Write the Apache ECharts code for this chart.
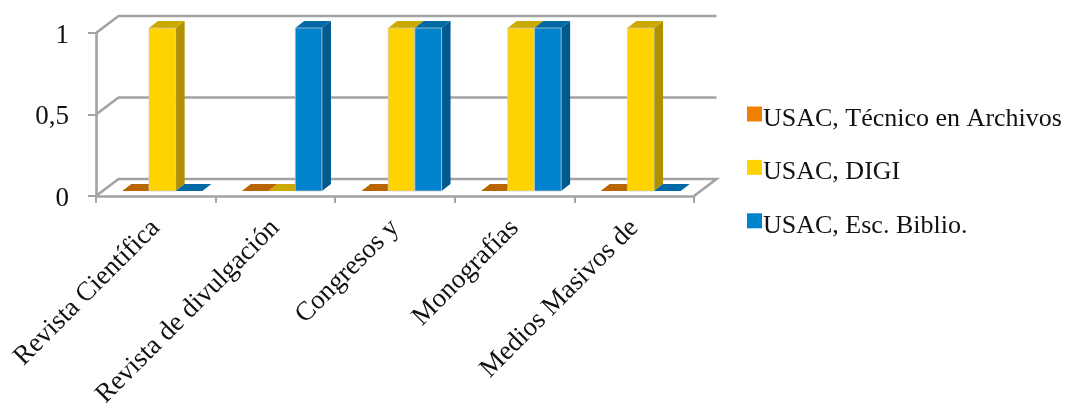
<!DOCTYPE html>
<html><head><meta charset="utf-8">
<style>html,body{margin:0;padding:0;background:#fff}#c{width:1067px;height:408px}</style>
<script src="https://cdn.jsdelivr.net/npm/echarts@6/dist/echarts.min.js"></script>
</head><body><div id="c"></div>
<script>
const categories = ['Revista Científica','Revista de divulgación','Congresos y','Monografías','Medios Masivos de'];
const seriesNames = ['USAC, Técnico en Archivos','USAC, DIGI','USAC, Esc. Biblio.'];
const tecnico = [0,0,0,0,0];
const digi = [1,0,1,1,1];
const biblio = [0,1,1,1,0];
const yTicks = [0,0.5,1];
const FONT = '"Liberation Serif"';
const GRAY = '#a3a3a3';
const LW = 2.6;
const front = ['#f08000','#ffd300','#0082cc'];
const side = ['#a85c00','#b08f00','#005a8e'];
const topc = ['#b86500','#cca900','#0069a6'];
const DX=22.5, DY=-17, OX=6.5, OY=-5, BX=9, BY=-7;
const chart = echarts.init(document.getElementById('c'),null,{renderer:'canvas'});
function barRender(s){
  return function(params,api){
    const bw = api.size([1,0])[0]*0.2232;
    const base = api.coord([api.value(0),0]);
    const t = api.coord([api.value(0),api.value(1)]);
    const x0 = base[0]+OX+(s-1.5)*bw, x1=x0+bw;
    const yb = base[1]+OY, yt=t[1]+OY;
    const children=[];
    const edge={stroke:'rgba(205,205,205,0.7)',lineWidth:1};
    if(yb-yt>0.5){
      children.push({type:'polygon',shape:{points:[[x1,yb],[x1+BX,yb+BY],[x1+BX,yt+BY],[x1,yt]]},style:{fill:side[s]}});
    }
    children.push({type:'polygon',shape:{points:[[x0,yt],[x1,yt],[x1+BX,yt+BY],[x0+BX,yt+BY]]},style:{fill:topc[s]}});
    if(yb-yt>0.5){
      children.push({type:'rect',shape:{x:x0,y:yt,width:bw,height:yb-yt},style:Object.assign({fill:front[s]},edge)});
    }
    return {type:'group',children};
  };
}
function frameRender(params,api){
  const c=params.coordSys;
  const p=api.coord([0,api.value(0)]);
  const y=p[1], xl=c.x, xr=c.x+c.width;
  const pts=[[xl,y],[xl+DX,y+DY],[xr+DX,y+DY]];
  if(api.value(0)===0) pts.push([xr,y]);
  return {type:'polyline',shape:{points:pts},style:{stroke:GRAY,lineWidth:LW,fill:null}};
}
const mk=(arr)=>arr.map((v,i)=>[i,v]);
chart.setOption({
  animation:false,
  backgroundColor:'#fff',
  grid:{left:96,top:33,width:598,height:163,outerBoundsMode:'none',containLabel:false},
  legend:{
    data:seriesNames,orient:'vertical',left:742,top:101,
    itemWidth:15,itemHeight:15,itemGap:27.4,icon:'rect',
    selectedMode:false,
    formatter:n=>'{a|'+n+'}',
    textStyle:{padding:[0,0,0,-4],rich:{a:{fontFamily:FONT,fontSize:26,color:'#111',padding:[10,0,0,0]}}}
  },
  xAxis:{type:'category',data:categories,
    axisLine:{lineStyle:{color:GRAY,width:LW}},
    axisTick:{show:true,alignWithLabel:false,length:7,lineStyle:{color:GRAY,width:2}},
    axisLabel:{rotate:45,interval:0,margin:28,fontFamily:FONT,fontSize:27,color:'#111'}},
  yAxis:{type:'value',min:0,max:1,interval:0.5,
    axisLine:{show:true,lineStyle:{color:GRAY,width:LW}},
    axisTick:{show:true,length:8,lineStyle:{color:GRAY,width:2}},
    splitLine:{show:false},
    axisLabel:{margin:27,fontFamily:FONT,fontSize:27,color:'#111',
      formatter:v=>'{a|'+String(v).replace('.',',')+'}',
      rich:{a:{fontFamily:FONT,fontSize:27,color:'#111',padding:[5,0,0,0]}}}},
  series:[
    {name:'frame',type:'custom',renderItem:frameRender,data:yTicks.map(v=>[v]),encode:{y:0},z:1,silent:true},
    {name:seriesNames[0],type:'custom',renderItem:barRender(0),data:mk(tecnico),encode:{x:0,y:1},itemStyle:{color:front[0]},z:2},
    {name:seriesNames[1],type:'custom',renderItem:barRender(1),data:mk(digi),encode:{x:0,y:1},itemStyle:{color:front[1]},z:3},
    {name:seriesNames[2],type:'custom',renderItem:barRender(2),data:mk(biblio),encode:{x:0,y:1},itemStyle:{color:front[2]},z:4}
  ]
});
</script></body></html>
